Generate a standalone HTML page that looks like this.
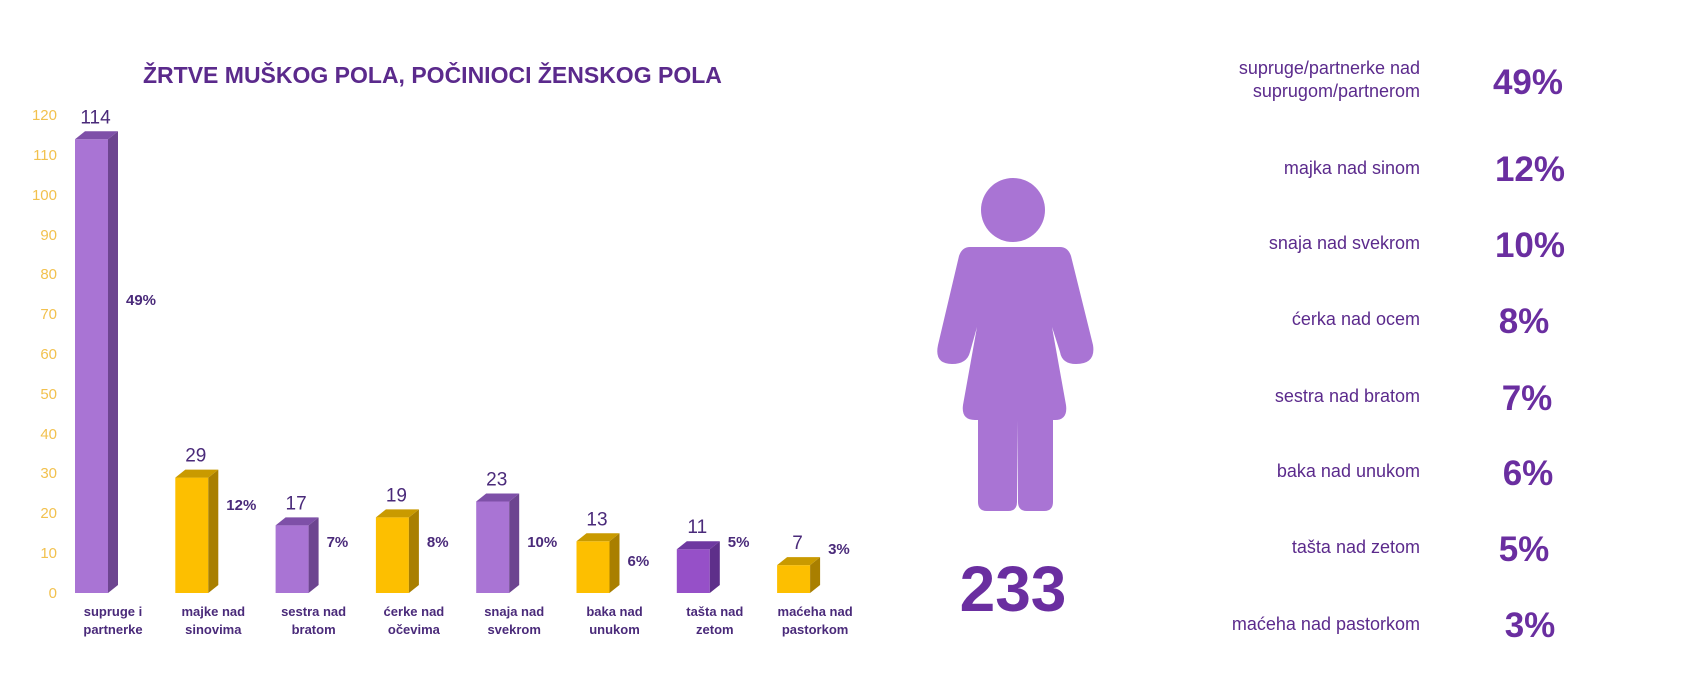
<!DOCTYPE html>
<html><head><meta charset="utf-8"><style>
body{margin:0;width:1683px;height:690px;background:#fff;overflow:hidden;font-family:"Liberation Sans",sans-serif}
</style></head><body>
<svg width="1683" height="690" xmlns="http://www.w3.org/2000/svg" font-family="Liberation Sans, sans-serif">
<text x="143" y="83" font-size="23" font-weight="bold" fill="#5b2a8c">ŽRTVE MUŠKOG POLA, POČINIOCI ŽENSKOG POLA</text>
<g font-size="15" fill="#f2c14e" text-anchor="end">
<text x="57" y="598">0</text><text x="57" y="558">10</text><text x="57" y="518">20</text><text x="57" y="478">30</text><text x="57" y="439">40</text><text x="57" y="399">50</text><text x="57" y="359">60</text><text x="57" y="319">70</text><text x="57" y="279">80</text><text x="57" y="240">90</text><text x="57" y="200">100</text><text x="57" y="160">110</text><text x="57" y="120">120</text>
</g>
<g id="bars"></g>
<g fill="#a974d4">
<circle cx="1013" cy="210" r="32"/>
<path d="M970 247 L1060 247 Q1068 247 1071 256 L1093 345 Q1096 364 1076 364 Q1062 364 1060 352 L1052 327 L1066 405 Q1068 420 1055 420 L1053 420 L1053 502 Q1053 511 1044 511 L1027 511 Q1018 511 1018 502 L1017 420 L1017 502 Q1017 511 1008 511 L987 511 Q978 511 978 502 L978 420 L975 420 Q961 420 963 405 L977 327 L970 352 Q967 364 952 364 Q934 364 938 345 L959 256 Q962 247 970 247Z"/>
</g>
<text x="1013" y="611" font-size="64" font-weight="bold" fill="#6a2ea0" text-anchor="middle">233</text>
<g font-size="18" fill="#5b2a8c" text-anchor="end">
<text x="1420" y="74">supruge/partnerke nad</text><text x="1420" y="97">suprugom/partnerom</text>
<text x="1420" y="174">majka nad sinom</text>
<text x="1420" y="249">snaja nad svekrom</text>
<text x="1420" y="325">ćerka nad ocem</text>
<text x="1420" y="402">sestra nad bratom</text>
<text x="1420" y="477">baka nad unukom</text>
<text x="1420" y="553">tašta nad zetom</text>
<text x="1420" y="630">maćeha nad pastorkom</text>
</g>
<g font-size="35" font-weight="bold" fill="#6a2ea0" text-anchor="middle">
<text x="1528" y="94">49%</text><text x="1530" y="181">12%</text><text x="1530" y="257">10%</text><text x="1524" y="333">8%</text><text x="1527" y="410">7%</text><text x="1528" y="485">6%</text><text x="1524" y="561">5%</text><text x="1530" y="637">3%</text>
</g>
</svg>
<script>
var d=[[114,"49%","supruge i","partnerke",0,305],[29,"12%","majke nad","sinovima",1,510],[17,"7%","sestra nad","bratom",0,547],[19,"8%","ćerke nad","očevima",1,547],[23,"10%","snaja nad","svekrom",0,547],[13,"6%","baka nad","unukom",1,566],[11,"5%","tašta nad","zetom",2,547],[7,"3%","maćeha nad","pastorkom",1,554]];
var C=[["#a974d4","#7e50a8","#6d4590"],["#fdbf00","#c99a00","#a97f00"],["#9650c8","#6e38a0","#5e2f8a"]];
var s="",B=593,k=3.98;
d.forEach(function(b,i){var x=75+i*100.3,w=33,dp=10,t=B-b[0]*k,c=C[b[4]];
s+='<rect x="'+x+'" y="'+t+'" width="'+w+'" height="'+(B-t)+'" fill="'+c[0]+'"/>';
s+='<polygon points="'+(x+w)+','+t+' '+(x+w+dp)+','+(t-8)+' '+(x+w+dp)+','+(B-8)+' '+(x+w)+','+B+'" fill="'+c[2]+'"/>';
s+='<polygon points="'+x+','+t+' '+(x+dp)+','+(t-8)+' '+(x+w+dp)+','+(t-8)+' '+(x+w)+','+t+'" fill="'+c[1]+'"/>';
s+='<text x="'+(x+w/2+4)+'" y="'+(t-16)+'" font-size="19" fill="#4a2a7a" text-anchor="middle">'+b[0]+'</text>';
s+='<text x="'+(x+51)+'" y="'+b[5]+'" font-size="15" font-weight="bold" fill="#4a2a7a">'+b[1]+'</text>';
s+='<text x="'+(x+w+5)+'" y="616" font-size="13" font-weight="bold" fill="#4a2a7a" text-anchor="middle">'+b[2]+'</text>';
s+='<text x="'+(x+w+5)+'" y="634" font-size="13" font-weight="bold" fill="#4a2a7a" text-anchor="middle">'+b[3]+'</text>';});
document.getElementById("bars").innerHTML=s;
</script>
</body></html>
